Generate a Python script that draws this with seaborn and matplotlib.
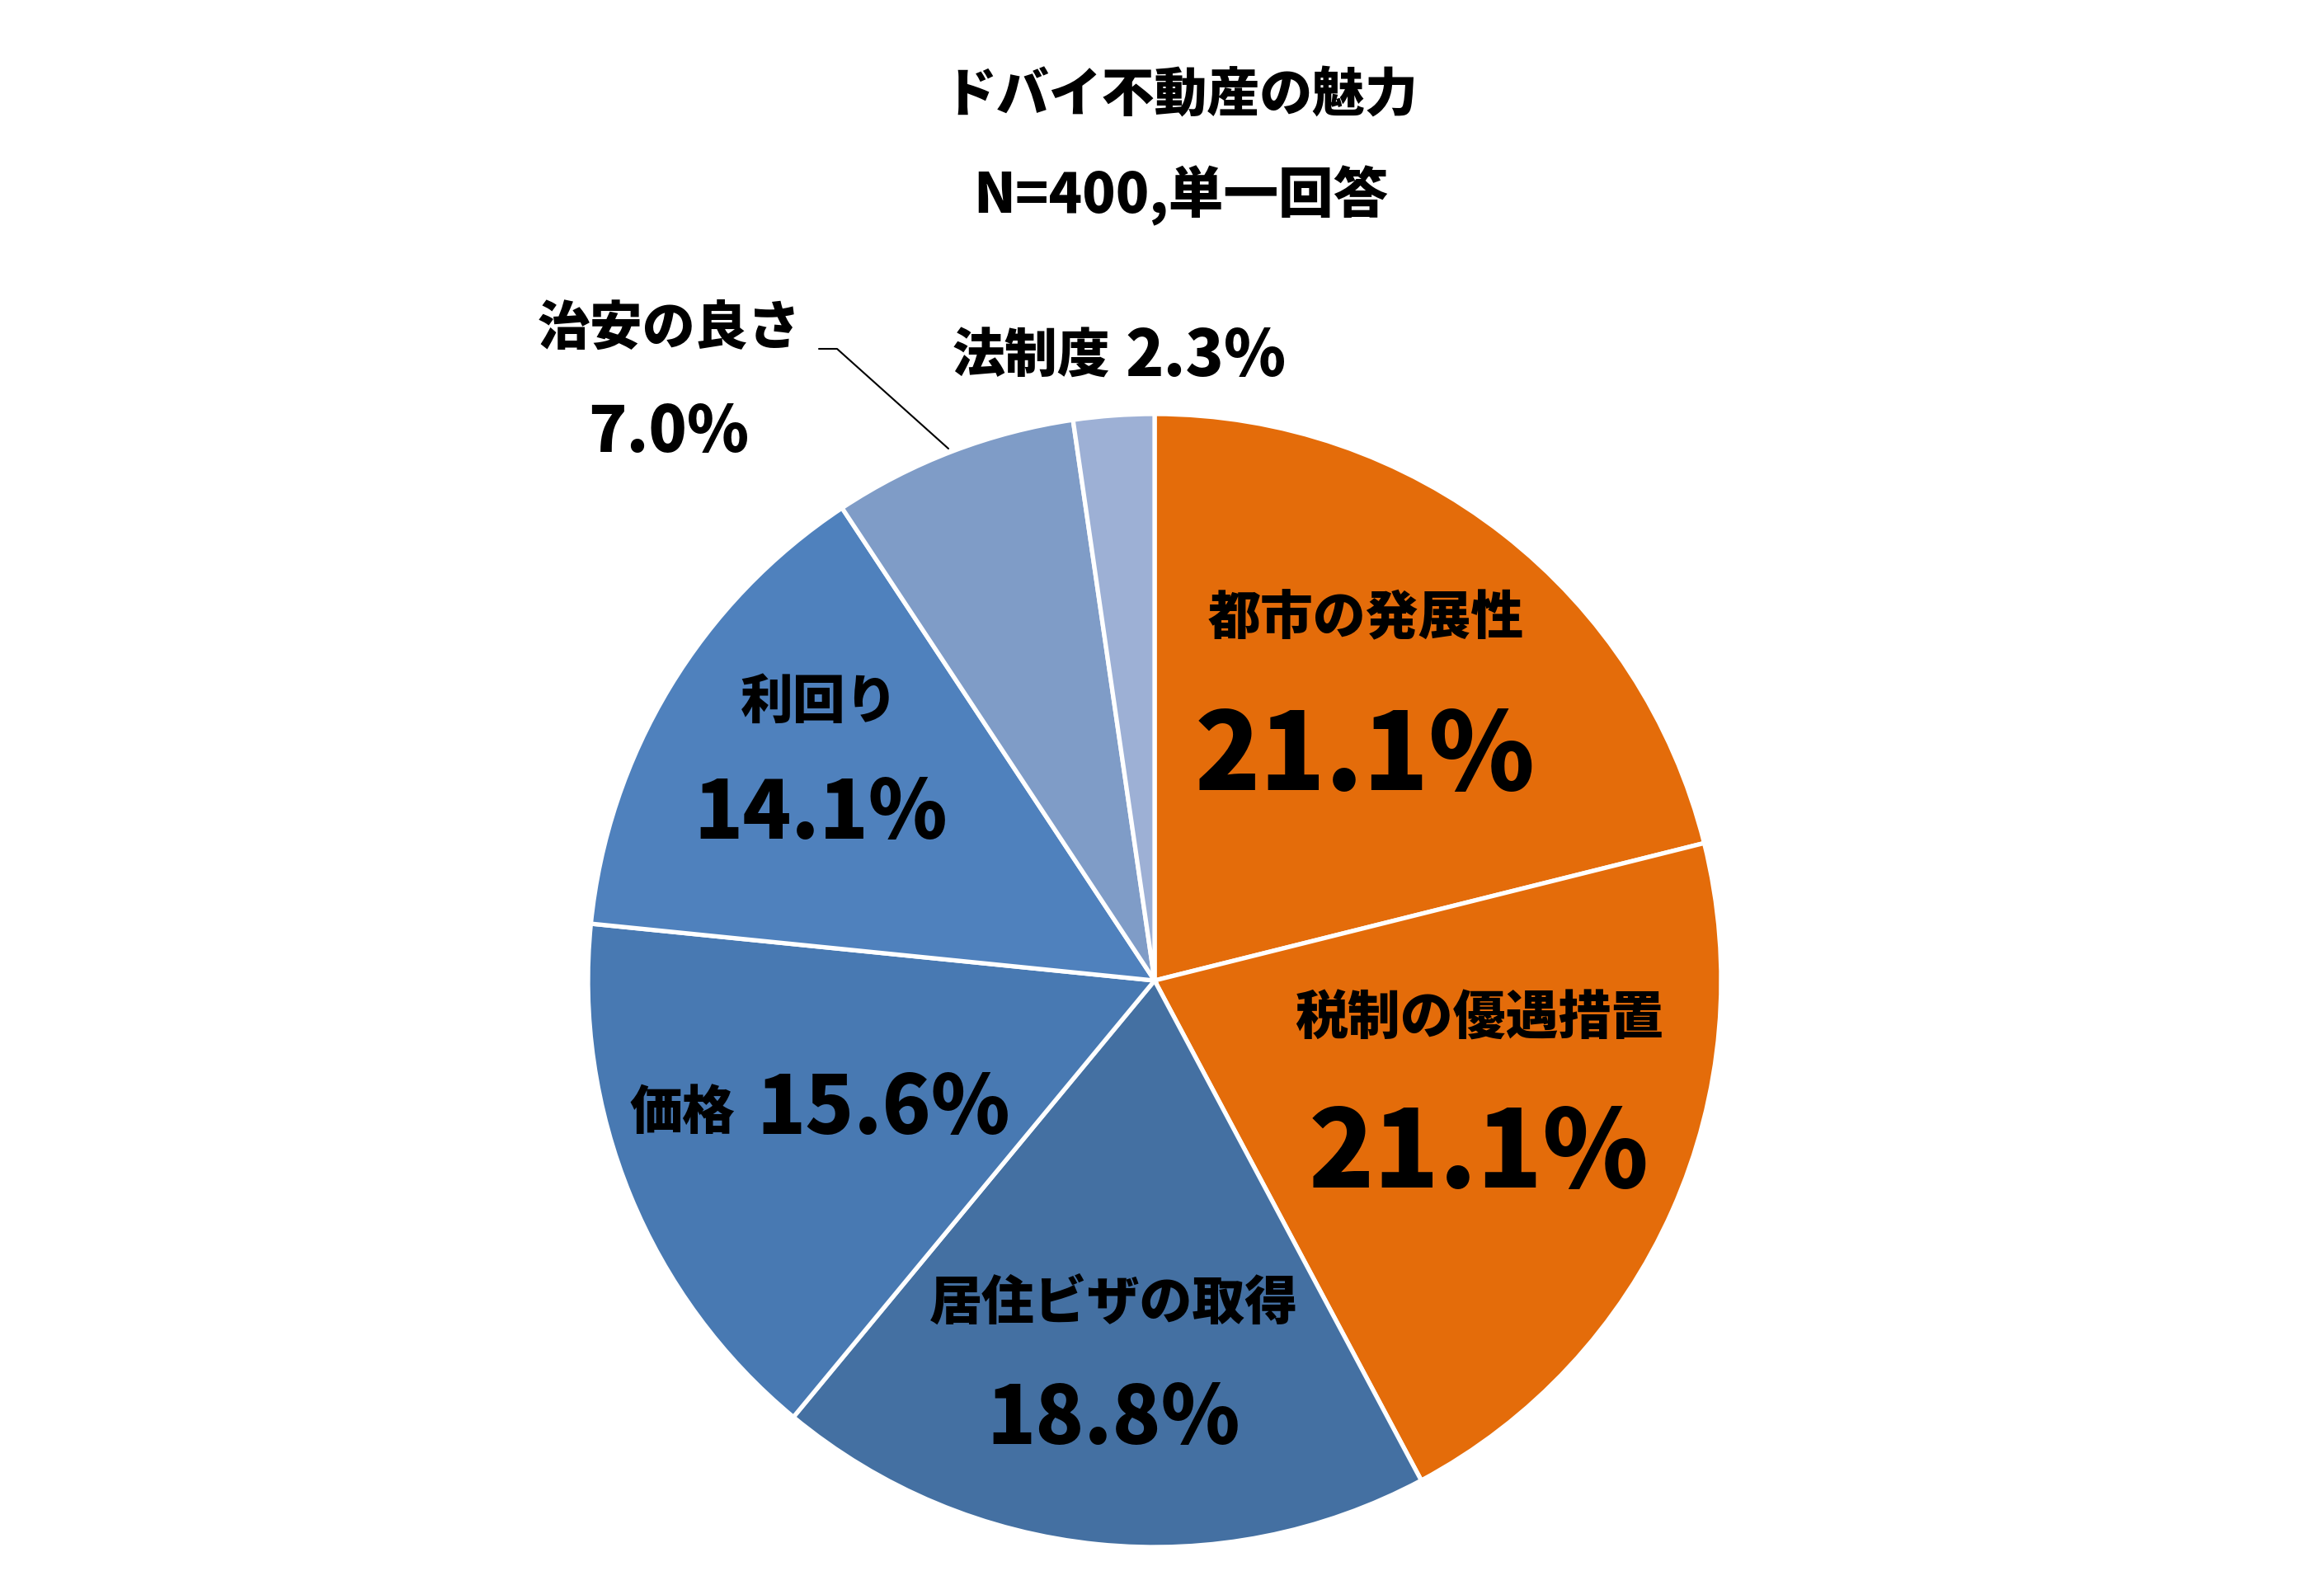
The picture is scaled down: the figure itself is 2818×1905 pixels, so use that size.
import matplotlib
matplotlib.use("Agg")
import matplotlib.pyplot as plt
import seaborn as sns
from matplotlib.lines import Line2D

sns.set_theme(style="white")
plt.rcParams['font.family'] = ['Noto Sans CJK JP', 'DejaVu Sans']

# ---- data ----
title_lines = ["ドバイ不動産の魅力", "N=400,単一回答"]
categories = ["都市の発展性", "税制の優遇措置", "居住ビザの取得", "価格", "利回り", "治安の良さ", "法制度"]
values = [21.1, 21.1, 18.8, 15.6, 14.1, 7.0, 2.3]
colors = ["#E46C0A", "#E46C0A", "#4470A2", "#4879B2", "#4F81BD", "#7F9CC7", "#9DB0D5"]

W, H, DPI = 2818, 1906, 100
fig = plt.figure(figsize=(W / DPI, H / DPI), dpi=DPI)
fig.patch.set_facecolor("white")

# pie axes: center (1400,1190) px, radius 687 px
cx, cy, R = 1400, 1190, 687
ax = fig.add_axes([(cx - R) / W, (H - cy - R) / H, 2 * R / W, 2 * R / H])
ax.pie(values, colors=colors, startangle=90, counterclock=False, radius=1.0,
       wedgeprops=dict(edgecolor="white", linewidth=3.8))
ax.set_xlim(-1, 1)
ax.set_ylim(-1, 1)
ax.set_aspect("equal")
ax.axis("off")

def ftext(x, y, s, size, ha="center"):
    fig.text(x / W, 1 - y / H, s, ha=ha, va="center", fontsize=size,
             fontweight="black", color="black")

# titles
ftext(1432, 117, title_lines[0], 46)
ftext(1432, 237, title_lines[1], 48)

def pct(v):
    return f"{v:.1f}%"

# labels (name, pct) positions in pixels
ftext(1656, 751, categories[0], 46)
ftext(1655, 920, pct(values[0]), 94)
ftext(1794, 1236, categories[1], 46)
ftext(1793, 1402, pct(values[1]), 94)
ftext(1350, 1581, categories[2], 46)
ftext(1350, 1722, pct(values[2]), 70)
ftext(827, 1350, categories[3], 46)
ftext(1071, 1346, pct(values[3]), 70)
ftext(994, 852, categories[4], 46)
ftext(995, 988, pct(values[4]), 70)
ftext(811, 399, categories[5], 46)
ftext(811, 525, pct(values[5]), 55)
ftext(1250, 433, categories[6], 46)
ftext(1462, 433, pct(values[6]), 55)

# leader line for 治安の良さ
fig.add_artist(Line2D([993 / W, 1015 / W, 1150 / W],
                      [1 - 424 / H, 1 - 424 / H, 1 - 545 / H],
                      color="black", linewidth=1.5))

fig.savefig("out.png", dpi=DPI, facecolor="white")
